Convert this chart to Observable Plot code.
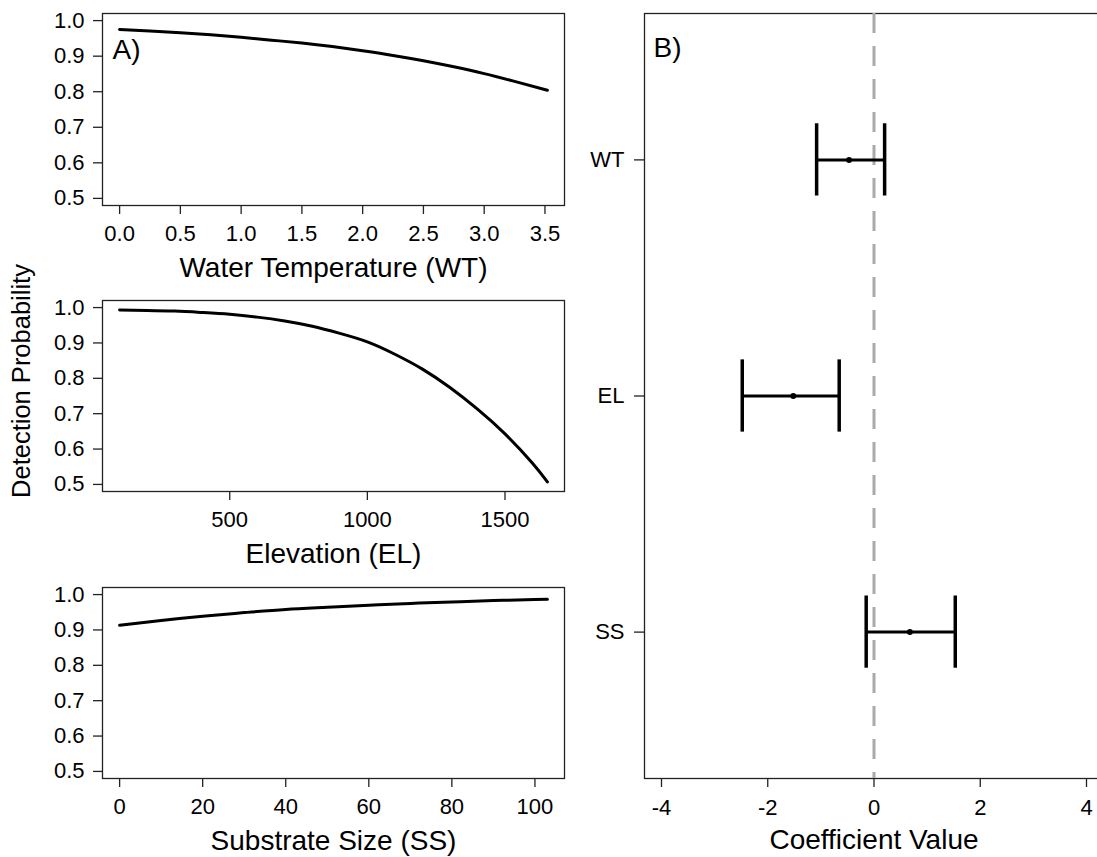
<!DOCTYPE html>
<html>
<head>
<meta charset="utf-8">
<script src="https://cdn.jsdelivr.net/npm/d3@7"></script>
<script src="https://cdn.jsdelivr.net/npm/@observablehq/plot@0.6"></script>
<style>
  body { margin: 0; background: #fff; }
  #wrap { position: relative; width: 1097px; height: 857px; overflow: hidden; background: #fff;
          font-family: "Liberation Sans", Arial, Helvetica, sans-serif; color: #000; }
  #wrap svg { position: absolute; left: 0; top: 0; max-width: none !important; background: transparent !important; overflow: visible; }
  #ylab { position: absolute; left: 22px; top: 381px; transform: translate(-50%, -50%) rotate(-90deg);
          font-size: 25.5px; white-space: nowrap; line-height: 1; }
</style>
</head>
<body>
<div id="wrap"><div id="ylab">Detection Probability</div></div>
<script>
// ---- Panel A data ----
const wtX = [0, 0.25, 0.5, 0.75, 1.0, 1.25, 1.5, 1.75, 2.0, 2.25, 2.5, 2.75, 3.0, 3.25, 3.52];
const wtP = [0.975, 0.971, 0.966, 0.960, 0.953, 0.945, 0.937, 0.927, 0.915, 0.902, 0.887, 0.870, 0.851, 0.829, 0.804];

const elX = [100, 200, 300, 400, 500, 600, 700, 800, 900, 1000, 1100, 1200, 1300, 1400, 1500, 1600, 1654];
const elP = [0.993, 0.992, 0.990, 0.986, 0.981, 0.973, 0.962, 0.947, 0.927, 0.903, 0.868, 0.826, 0.774, 0.713, 0.643, 0.560, 0.507];

const ssX = [0, 10, 20, 30, 40, 50, 60, 70, 80, 90, 100, 103];
const ssP = [0.913, 0.927, 0.939, 0.949, 0.958, 0.964, 0.970, 0.975, 0.979, 0.983, 0.986, 0.987];

const probTicks = [0.5, 0.6, 0.7, 0.8, 0.9, 1.0];
const wtTicks = [0, 0.5, 1.0, 1.5, 2.0, 2.5, 3.0, 3.5];
const elTicks = [500, 1000, 1500];
const ssTicks = [0, 20, 40, 60, 80, 100];

// ---- Panel B data ----
const predictors = ["WT", "EL", "SS"];
const coefEst  = [-0.47, -1.52, 0.675];
const coefLow  = [-1.08, -2.48, -0.147];
const coefHigh = [0.20, -0.655, 1.53];
const coefTicks = [-4, -2, 0, 2, 4];
const zeroLine = [0];

const FONT = '"Liberation Sans", Arial, Helvetica, sans-serif';
const wrap = document.getElementById("wrap");
const AX = "#222";

function pad(ext) { const r = ext[1] - ext[0]; return [ext[0] - 0.04 * r, ext[1] + 0.04 * r]; }

function curvePanel(xs, ps, xTicks, xFmt, title, top, bottom, tag) {
  const data = xs.map((x, i) => ({x, p: ps[i]}));
  const marks = [
    Plot.frame({stroke: AX, strokeWidth: 1.3}),
    Plot.axisX(xTicks, {tickSize: 9, tickPadding: 11, tickFormat: xFmt, fontSize: 22, stroke: AX, strokeWidth: 1.3, fill: "#000", label: null}),
    Plot.axisY(probTicks, {tickSize: 9, tickPadding: 9, tickFormat: d3.format(".1f"), fontSize: 22, stroke: AX, strokeWidth: 1.3, fill: "#000", label: null}),
    Plot.text([title], {frameAnchor: "bottom", lineAnchor: "top", dy: 52, text: d => d, fontSize: 28, fill: "#000"}),
    Plot.line(data, {x: "x", y: "p", stroke: "#000", strokeWidth: 3, curve: "natural"})
  ];
  if (tag) marks.push(Plot.text([tag], {frameAnchor: "top-left", lineAnchor: "top", textAnchor: "start", dx: 10, dy: 26, text: d => d, fontSize: 28, fill: "#000"}));
  return Plot.plot({
    width: 1097, height: 857,
    marginLeft: 102, marginRight: 1097 - 564, marginTop: top, marginBottom: 857 - bottom,
    style: {fontFamily: FONT, background: "transparent", overflow: "visible"},
    x: {domain: pad(d3.extent(xs)), axis: null},
    y: {domain: [0.48, 1.02], axis: null},
    marks
  });
}

wrap.appendChild(curvePanel(wtX, wtP, wtTicks, d3.format(".1f"), "Water Temperature (WT)", 13, 205, "A)"));
wrap.appendChild(curvePanel(elX, elP, elTicks, d3.format("d"), "Elevation (EL)", 300, 491, null));
wrap.appendChild(curvePanel(ssX, ssP, ssTicks, d3.format("d"), "Substrate Size (SS)", 587, 778, null));

// ---- Panel B ----
const coef = predictors.map((name, i) => ({name, pos: predictors.length - i, est: coefEst[i], lo: coefLow[i], hi: coefHigh[i]}));
const capHalf = 0.153;
const posToName = new Map(coef.map(d => [d.pos, d.name]));

const plotB = Plot.plot({
  width: 1110, height: 857,
  marginLeft: 644, marginRight: 7, marginTop: 13, marginBottom: 857 - 778,
  style: {fontFamily: FONT, background: "transparent", overflow: "visible"},
  x: {domain: [-4.32, 4.32], axis: null},
  y: {domain: [0.38, 3.62], axis: null},
  marks: [
    Plot.frame({stroke: AX, strokeWidth: 1.3}),
    Plot.ruleX(zeroLine, {x: d => d, stroke: "#aaaaaa", strokeWidth: 3, strokeDasharray: "20,13"}),
    Plot.axisX(coefTicks, {tickSize: 9, tickPadding: 12, tickFormat: d => d < 0 ? "-" + Math.abs(d) : String(d), fontSize: 22, stroke: AX, strokeWidth: 1.3, fill: "#000", label: null}),
    Plot.axisY(coef.map(d => d.pos), {tickSize: 10, tickPadding: 10, tickFormat: d => posToName.get(d), fontSize: 22, stroke: AX, strokeWidth: 1.3, fill: "#000", label: null}),
    Plot.text(["Coefficient Value"], {frameAnchor: "bottom", lineAnchor: "top", dy: 51, text: d => d, fontSize: 28, fill: "#000"}),
    Plot.text(["B)"], {frameAnchor: "top-left", lineAnchor: "top", textAnchor: "start", dx: 9, dy: 24, text: d => d, fontSize: 28, fill: "#000"}),
    Plot.ruleY(coef, {y: "pos", x1: "lo", x2: "hi", stroke: "#000", strokeWidth: 3}),
    Plot.ruleX(coef, {x: "lo", y1: d => d.pos - capHalf, y2: d => d.pos + capHalf, stroke: "#000", strokeWidth: 3.5}),
    Plot.ruleX(coef, {x: "hi", y1: d => d.pos - capHalf, y2: d => d.pos + capHalf, stroke: "#000", strokeWidth: 3.5}),
    Plot.dot(coef, {x: "est", y: "pos", r: 3, fill: "#000", stroke: null})
  ]
});
wrap.appendChild(plotB);
</script>
</body>
</html>
